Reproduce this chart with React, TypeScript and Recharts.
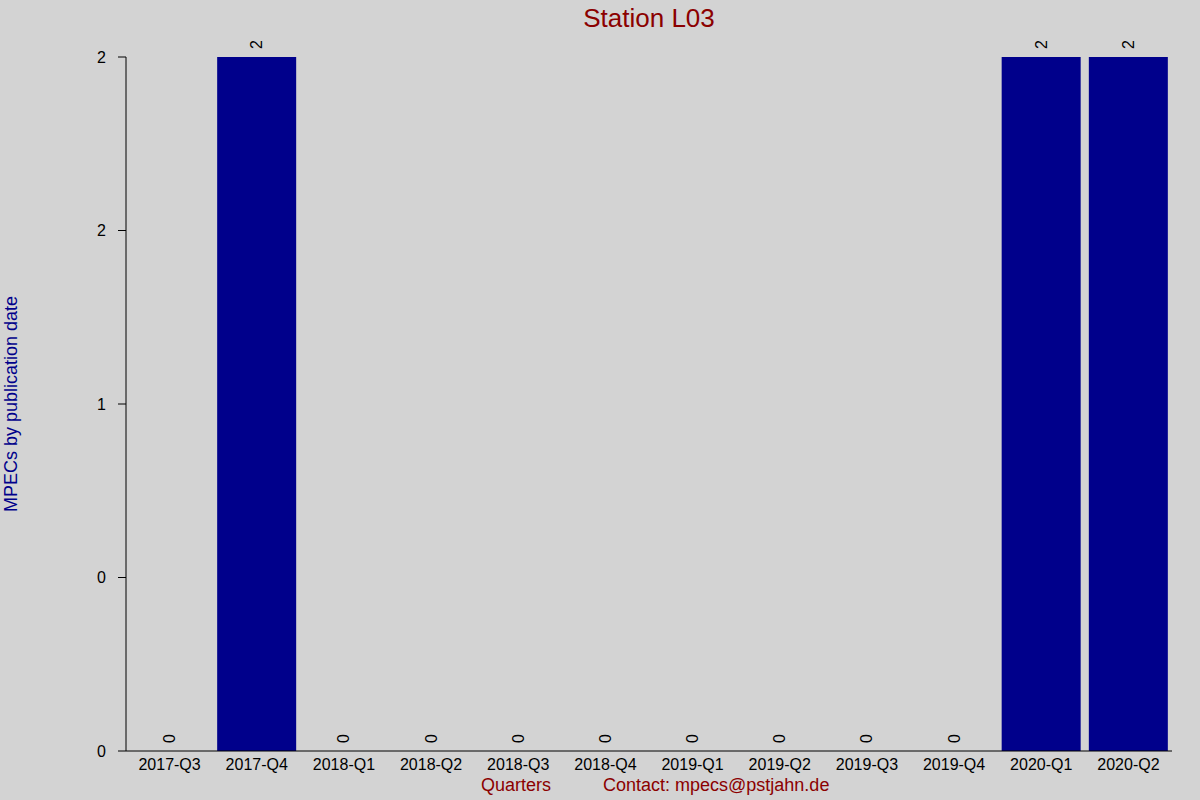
import { Bar, BarChart, XAxis, YAxis } from 'recharts';

const quarters = [
  '2017-Q3', '2017-Q4', '2018-Q1', '2018-Q2', '2018-Q3', '2018-Q4',
  '2019-Q1', '2019-Q2', '2019-Q3', '2019-Q4', '2020-Q1', '2020-Q2',
];
const mpecCounts = [0, 2, 0, 0, 0, 0, 0, 0, 0, 0, 2, 2];
const yTicks = [0, 0.5, 1, 1.5, 2];
const yTickLabels = ['0', '0', '1', '2', '2'];

const data = quarters.map((q, i) => ({ quarter: q, count: mpecCounts[i] }));

const FONT = '"Liberation Sans", Arial, sans-serif';
const DARK_RED = '#8b0000';
const NAVY = '#00008b';

// bar plus its rotated value label, so zero-height bars still get their "0"
function BarWithLabel(props: any) {
  const { x, y, width, height, value, fill } = props;
  const cx = x + width / 2;
  const ty = y - 8;
  const v = Array.isArray(value) ? value[1] - value[0] : value;
  return (
    <g>
      {height > 0 && <rect x={x} y={y} width={width} height={height} fill={fill} />}
      <text
        x={cx}
        y={ty}
        transform={`rotate(-90 ${cx} ${ty})`}
        textAnchor="start"
        dominantBaseline="central"
        fontSize={16}
        fontFamily={FONT}
        fill="#000"
      >
        {String(v)}
      </text>
    </g>
  );
}

export default function App() {
  return (
    <div style={{ position: 'relative', width: 1200, height: 800, background: '#d3d3d3', fontFamily: FONT }}>
      <style>{'body{margin:0}'}</style>
      <div style={{ position: 'absolute', left: 126, width: 1046, top: 3, textAlign: 'center', fontSize: 26, color: DARK_RED }}>
        Station L03
      </div>
      <div
        style={{
          position: 'absolute',
          left: 11,
          top: 404,
          transform: 'translate(-50%, -50%) rotate(-90deg)',
          whiteSpace: 'nowrap',
          fontSize: 18,
          color: NAVY,
        }}
      >
        MPECs by publication date
      </div>
      <div style={{ position: 'absolute', left: 481, top: 775, fontSize: 18, color: DARK_RED, whiteSpace: 'nowrap' }}>
        Quarters
      </div>
      <div style={{ position: 'absolute', left: 603, top: 775, fontSize: 18, color: DARK_RED, whiteSpace: 'nowrap' }}>
        Contact: mpecs@pstjahn.de
      </div>
      <BarChart
        width={1200}
        height={800}
        data={data}
        margin={{ top: 57, right: 28, bottom: 19, left: 0 }}
        barCategoryGap={4}
        style={{ position: 'absolute', left: 0, top: 0 }}
      >
        <XAxis
          dataKey="quarter"
          height={30}
          axisLine={{ stroke: '#000' }}
          tickLine={false}
          tick={{ fontSize: 16, fill: '#000', fontFamily: FONT }}
          interval={0}
        />
        <YAxis
          width={126}
          domain={[0, 2]}
          ticks={yTicks}
          tickFormatter={(v: number) => yTickLabels[yTicks.indexOf(v)]}
          axisLine={{ stroke: '#000' }}
          tickLine={{ stroke: '#000' }}
          tickSize={8}
          tickMargin={12}
          tick={{ fontSize: 16, fill: '#000', fontFamily: FONT }}
        />
        <Bar dataKey="count" fill={NAVY} isAnimationActive={false} shape={BarWithLabel} />
      </BarChart>
    </div>
  );
}
